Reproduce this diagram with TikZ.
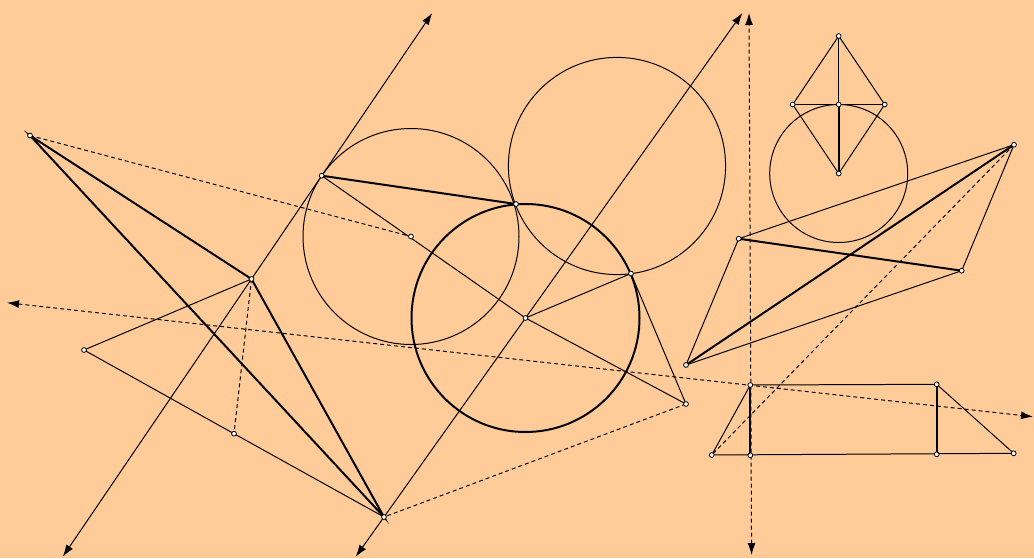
\documentclass[tikz,border=0pt]{standalone}
\usepackage{tikz}
\usetikzlibrary{arrows.meta,calc}
\definecolor{peach}{HTML}{FFCC99}
\tikzset{
  seg/.style={line width=0.5pt},
  bold/.style={line width=1pt},
  dsh/.style={line width=0.5pt,dash pattern=on 2pt off 1.5pt},
  arr/.style={{Latex[length=6pt,width=4pt]}-{Latex[length=6pt,width=4pt]}},
  pt/.style={circle,draw,fill=white,inner sep=0pt,minimum size=2.4pt,line width=0.4pt}
}
\begin{document}
\begin{tikzpicture}[x=0.5pt,y=-0.5pt]
\fill[peach] (0,0) rectangle (1034,558);
\useasboundingbox (0,0) rectangle (1034,558);
% left triangle
\coordinate (A) at (30,135.5);
\coordinate (B) at (251.5,279);
\coordinate (C) at (384,517);
\coordinate (D) at (84,350);
\coordinate (E) at (234,433.7);
\coordinate (P) at (321.7,175.7);
\coordinate (F) at (411,236.5);
\coordinate (T) at (516,204);
\coordinate (M) at (525.5,318);
\coordinate (Q) at (631,273.5);
\coordinate (G) at (686,404);
\coordinate (O) at (617,166);
\coordinate (bpTop) at ($(B)!2.575!(P)$);
\coordinate (bpBot) at ($(B)!-2.688!(P)$);
\coordinate (cmTop) at ($(C)!2.533!(M)$);
\coordinate (cmBot) at ($(C)!-0.2!(M)$);
% right part
\coordinate (K1) at (838.7,36);
\coordinate (K2) at (792.7,104.5);
\coordinate (K3) at (838.7,104.5);
\coordinate (K4) at (884.7,104.5);
\coordinate (K5) at (838.7,173.5);
\coordinate (H1) at (738.7,238.7);
\coordinate (H2) at (1014,144.7);
\coordinate (H3) at (961.7,270.7);
\coordinate (H4) at (686,365);
\coordinate (L) at (711.7,455);
\coordinate (R1) at (750.3,385);
\coordinate (R2) at (936.7,384.3);
\coordinate (R3) at (1013.7,453.3);
\coordinate (R4) at (750.3,455.3);
\coordinate (R5) at (936.7,454.3);
\coordinate (vTop) at (749,13);
\coordinate (vBot) at (751.6,555);
\coordinate (hL) at (7,302.7);
\coordinate (hR) at (1033,416.7);

% circles
\draw[seg] (F) circle[radius=54pt];
\draw[seg] (O) circle[radius=54.3pt];
\draw[bold] (M) circle[radius=57pt];
\draw[seg] (K5) circle[radius=34.5pt];

% lines with arrows
\draw[seg,arr] (bpBot) -- (bpTop);
\draw[seg,arr] (cmBot) -- (cmTop);
\draw[dsh,arr] (vBot) -- (vTop);
\draw[dsh,arr] (hL) -- (hR);

\draw[bold] (A) -- (B) -- (C) -- cycle;
\draw[seg] (B) -- (D) -- (E) -- (C);
\draw[dsh] (B) -- (E);
\draw[dsh] (A) -- (F);
\draw[bold] (P) -- (T);
\draw[seg] (P) -- (M) -- (Q) -- (G) -- (M);
\draw[dsh] (G) -- (C);

\draw[seg] (K1) -- (K2) -- (K5) -- (K4) -- cycle;
\draw[seg] (K2) -- (K4);
\draw[seg] (K1) -- (K3);
\draw[bold] (K3) -- (K5);

\draw[seg] (H1) -- (H2) -- (H3) -- (H4) -- cycle;
\draw[bold] (H1) -- (H3);
\draw[bold] (H4) -- (H2);
\draw[dsh] (H2) -- (L);

\draw[seg] (L) -- (R1) -- (R2) -- (R3) -- cycle;
\draw[bold] (R1) -- (R4);
\draw[bold] (R2) -- (R5);

% point marks
\foreach \p in {A,B,C,D,E,P,F,T,M,Q,G,K1,K2,K3,K4,K5,H1,H2,H3,H4,L,R1,R2,R3,R4,R5}
  \node[pt] (m\p) at (\p) {};
\end{tikzpicture}
\end{document}
